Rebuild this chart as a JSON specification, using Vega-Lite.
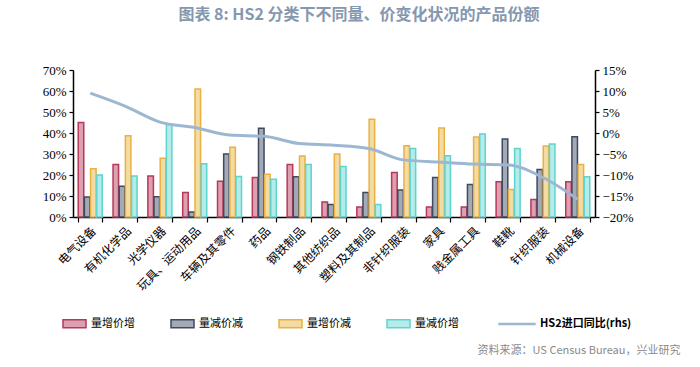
{
  "$schema": "https://vega.github.io/schema/vega-lite/v6.json",
  "autosize": {"type": "none"},
  "width": 522,
  "height": 147,
  "padding": {"left": 73, "top": 70, "right": 105, "bottom": 150},
  "background": "white",
  "title": {
    "text": "图表 8:  HS2 分类下不同量、价变化状况的产品份额",
    "anchor": "middle",
    "frame": "group",
    "baseline": "bottom",
    "offset": 25,
    "dx": 25,
    "color": "#8598AF",
    "fontSize": 16,
    "font": "Noto Sans CJK SC",
    "fontWeight": "bold"
  },
  "datasets": {
    "bars": [
      {"cat": "电气设备", "series": "量增价增", "value": 0.45},
      {"cat": "电气设备", "series": "量减价减", "value": 0.095},
      {"cat": "电气设备", "series": "量增价减", "value": 0.23},
      {"cat": "电气设备", "series": "量减价增", "value": 0.20},
      {"cat": "有机化学品", "series": "量增价增", "value": 0.25},
      {"cat": "有机化学品", "series": "量减价减", "value": 0.147},
      {"cat": "有机化学品", "series": "量增价减", "value": 0.387},
      {"cat": "有机化学品", "series": "量减价增", "value": 0.195},
      {"cat": "光学仪器", "series": "量增价增", "value": 0.195},
      {"cat": "光学仪器", "series": "量减价减", "value": 0.096},
      {"cat": "光学仪器", "series": "量增价减", "value": 0.28},
      {"cat": "光学仪器", "series": "量减价增", "value": 0.44},
      {"cat": "玩具、运动用品", "series": "量增价增", "value": 0.117},
      {"cat": "玩具、运动用品", "series": "量减价减", "value": 0.024},
      {"cat": "玩具、运动用品", "series": "量增价减", "value": 0.61},
      {"cat": "玩具、运动用品", "series": "量减价增", "value": 0.254},
      {"cat": "车辆及其零件", "series": "量增价增", "value": 0.17},
      {"cat": "车辆及其零件", "series": "量减价减", "value": 0.30},
      {"cat": "车辆及其零件", "series": "量增价减", "value": 0.332},
      {"cat": "车辆及其零件", "series": "量减价增", "value": 0.193},
      {"cat": "药品", "series": "量增价增", "value": 0.188},
      {"cat": "药品", "series": "量减价减", "value": 0.423},
      {"cat": "药品", "series": "量增价减", "value": 0.203},
      {"cat": "药品", "series": "量减价增", "value": 0.18},
      {"cat": "钢铁制品", "series": "量增价增", "value": 0.25},
      {"cat": "钢铁制品", "series": "量减价减", "value": 0.192},
      {"cat": "钢铁制品", "series": "量增价减", "value": 0.29},
      {"cat": "钢铁制品", "series": "量减价增", "value": 0.25},
      {"cat": "其他纺织品", "series": "量增价增", "value": 0.072},
      {"cat": "其他纺织品", "series": "量减价减", "value": 0.06},
      {"cat": "其他纺织品", "series": "量增价减", "value": 0.30},
      {"cat": "其他纺织品", "series": "量减价增", "value": 0.24},
      {"cat": "塑料及其制品", "series": "量增价增", "value": 0.048},
      {"cat": "塑料及其制品", "series": "量减价减", "value": 0.117},
      {"cat": "塑料及其制品", "series": "量增价减", "value": 0.466},
      {"cat": "塑料及其制品", "series": "量减价增", "value": 0.06},
      {"cat": "非针织服装", "series": "量增价增", "value": 0.212},
      {"cat": "非针织服装", "series": "量减价减", "value": 0.128},
      {"cat": "非针织服装", "series": "量增价减", "value": 0.339},
      {"cat": "非针织服装", "series": "量减价增", "value": 0.326},
      {"cat": "家具", "series": "量增价增", "value": 0.048},
      {"cat": "家具", "series": "量减价减", "value": 0.188},
      {"cat": "家具", "series": "量增价减", "value": 0.424},
      {"cat": "家具", "series": "量减价增", "value": 0.292},
      {"cat": "贱金属工具", "series": "量增价增", "value": 0.048},
      {"cat": "贱金属工具", "series": "量减价减", "value": 0.155},
      {"cat": "贱金属工具", "series": "量增价减", "value": 0.381},
      {"cat": "贱金属工具", "series": "量减价增", "value": 0.395},
      {"cat": "鞋靴", "series": "量增价增", "value": 0.168},
      {"cat": "鞋靴", "series": "量减价减", "value": 0.371},
      {"cat": "鞋靴", "series": "量增价减", "value": 0.131},
      {"cat": "鞋靴", "series": "量减价增", "value": 0.326},
      {"cat": "针织服装", "series": "量增价增", "value": 0.083},
      {"cat": "针织服装", "series": "量减价减", "value": 0.226},
      {"cat": "针织服装", "series": "量增价减", "value": 0.338},
      {"cat": "针织服装", "series": "量减价增", "value": 0.348},
      {"cat": "机械设备", "series": "量增价增", "value": 0.168},
      {"cat": "机械设备", "series": "量减价减", "value": 0.382},
      {"cat": "机械设备", "series": "量增价减", "value": 0.25},
      {"cat": "机械设备", "series": "量减价增", "value": 0.192}
    ],
    "line": [
      {"cat": "电气设备", "yoy": 0.095},
      {"cat": "有机化学品", "yoy": 0.064},
      {"cat": "光学仪器", "yoy": 0.026},
      {"cat": "玩具、运动用品", "yoy": 0.013},
      {"cat": "车辆及其零件", "yoy": -0.005},
      {"cat": "药品", "yoy": -0.008},
      {"cat": "钢铁制品", "yoy": -0.025},
      {"cat": "其他纺织品", "yoy": -0.029},
      {"cat": "塑料及其制品", "yoy": -0.037},
      {"cat": "非针织服装", "yoy": -0.064},
      {"cat": "家具", "yoy": -0.069},
      {"cat": "贱金属工具", "yoy": -0.074},
      {"cat": "鞋靴", "yoy": -0.076},
      {"cat": "针织服装", "yoy": -0.106},
      {"cat": "机械设备", "yoy": -0.158}
    ]
  },
  "layer": [
    {
      "data": {"name": "bars"},
      "mark": {"type": "bar", "strokeWidth": 1.5},
      "encoding": {
        "x": {
          "field": "cat",
          "type": "nominal",
          "sort": null,
          "scale": {"paddingInner": 0.31, "paddingOuter": 0.15},
          "axis": {
            "title": "资料来源：US Census Bureau，兴业研究",
            "titleFont": "Noto Sans CJK SC",
            "titleFontSize": 11,
            "titleFontWeight": "normal",
            "titleColor": "#8a8a8a",
            "titleAlign": "right",
            "titleAnchor": "end",
            "titleBaseline": "top",
            "titleX": 607,
            "titleY": 127,
            "labelAngle": -45,
            "labelAlign": "right",
            "labelBaseline": "top",
            "labelFont": "Noto Sans CJK SC",
            "labelFontSize": 12,
            "labelColor": "#000000",
            "labelPadding": 3,
            "domainColor": "#000000",
            "domainWidth": 1.5,
            "tickColor": "#000000",
            "tickWidth": 1.2,
            "tickSize": 5,
            "tickBand": "extent"
          }
        },
        "xOffset": {
          "field": "series",
          "type": "nominal",
          "sort": ["量增价增", "量减价减", "量增价减", "量减价增"],
          "scale": {"paddingInner": 0.1}
        },
        "y": {
          "field": "value",
          "type": "quantitative",
          "scale": {"domain": [0, 0.7]},
          "axis": {
            "title": null,
            "orient": "left",
            "format": ".0%",
            "values": [0, 0.1, 0.2, 0.3, 0.4, 0.5, 0.6, 0.7],
            "grid": false,
            "labelFont": "Liberation Serif",
            "labelFontSize": 13,
            "labelColor": "#000000",
            "labelPadding": 3,
            "domainColor": "#000000",
            "domainWidth": 1.5,
            "tickColor": "#000000",
            "tickWidth": 1.2,
            "tickSize": 4
          }
        },
        "fill": {
          "field": "series",
          "type": "nominal",
          "scale": {
            "domain": ["量增价增", "量减价减", "量增价减", "量减价增"],
            "range": ["#DDA0B0", "#A4AAB5", "#F4DAA3", "#B5EBE8"]
          },
          "legend": {
            "orient": "none",
            "legendX": -11,
            "legendY": 241,
            "direction": "horizontal",
            "columns": 4,
            "title": null,
            "padding": 0,
            "symbolType": "M-1,-0.35H1V0.35H-1Z",
            "symbolSize": 529,
            "symbolStrokeWidth": 1.5,
            "columnPadding": 33,
            "labelFont": "Noto Sans CJK SC",
            "labelFontSize": 11,
            "labelColor": "#000000",
            "labelOffset": 4
          }
        },
        "stroke": {
          "field": "series",
          "type": "nominal",
          "scale": {
            "domain": ["量增价增", "量减价减", "量增价减", "量减价增"],
            "range": ["#B5395A", "#3E4A5F", "#E9B142", "#5FD3CD"]
          },
          "legend": {
            "orient": "none",
            "legendX": -11,
            "legendY": 241,
            "direction": "horizontal",
            "columns": 4,
            "title": null,
            "padding": 0,
            "symbolType": "M-1,-0.35H1V0.35H-1Z",
            "symbolSize": 529,
            "symbolStrokeWidth": 1.5,
            "columnPadding": 33,
            "labelFont": "Noto Sans CJK SC",
            "labelFontSize": 11,
            "labelColor": "#000000",
            "labelOffset": 4
          }
        }
      }
    },
    {
      "data": {"name": "line"},
      "mark": {"type": "line", "strokeWidth": 3, "interpolate": "monotone"},
      "encoding": {
        "x": {"field": "cat", "type": "nominal", "sort": null},
        "y": {
          "field": "yoy",
          "type": "quantitative",
          "scale": {"domain": [-0.2, 0.15]},
          "axis": {
            "title": null,
            "orient": "right",
            "format": ".0%",
            "values": [-0.2, -0.15, -0.1, -0.05, 0, 0.05, 0.1, 0.15],
            "grid": false,
            "labelFont": "Liberation Serif",
            "labelFontSize": 13,
            "labelColor": "#000000",
            "labelPadding": 3,
            "domainColor": "#000000",
            "domainWidth": 1.5,
            "tickColor": "#000000",
            "tickWidth": 1.2,
            "tickSize": 4
          }
        },
        "color": {
          "datum": "HS2进口同比(rhs)",
          "type": "nominal",
          "scale": {"range": ["#9DB7D3"]},
          "legend": {
            "orient": "none",
            "legendX": 424,
            "legendY": 234,
            "title": null,
            "padding": 0,
            "symbolType": "stroke",
            "symbolSize": 1400,
            "symbolStrokeWidth": 2.5,
            "labelFont": "Noto Sans CJK SC",
            "labelFontSize": 11,
            "labelFontWeight": "bold",
            "labelColor": "#000000",
            "labelOffset": 3
          }
        }
      }
    }
  ],
  "resolve": {"scale": {"y": "independent"}},
  "config": {
    "view": {"stroke": null},
    "axis": {"labelFlush": false}
  }
}
